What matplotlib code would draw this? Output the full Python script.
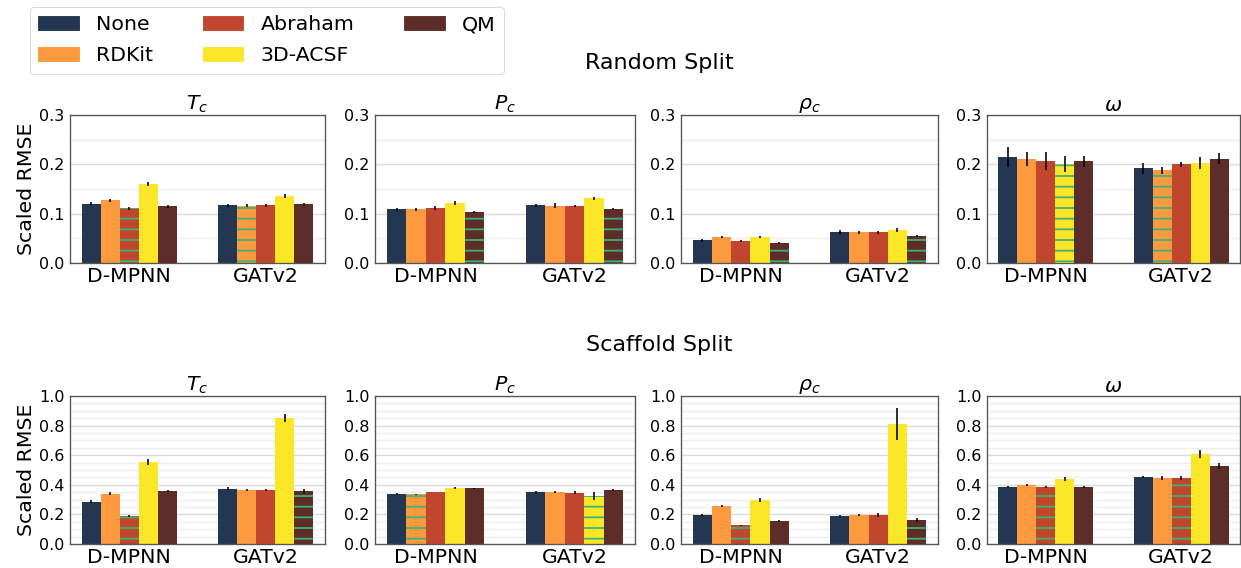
import matplotlib
matplotlib.use("Agg")
import matplotlib.pyplot as plt
from matplotlib.ticker import MultipleLocator
from matplotlib.patches import Patch

# feature sets (legend order) and their colours
features = ["None", "RDKit", "Abraham", "3D-ACSF", "QM"]
colors = ["#243752", "#fd9a40", "#c1462e", "#fbe727", "#5c2d29"]
models = ["D-MPNN", "GATv2"]
targets = [r"$T_c$", r"$P_c$", r"$\rho_c$", r"$\omega$"]

# random split: [target][model][feature]
random_mean = [
    [[0.120, 0.127, 0.111, 0.160, 0.115], [0.117, 0.1165, 0.117, 0.135, 0.119]],
    [[0.109, 0.109, 0.111, 0.121, 0.103], [0.117, 0.116, 0.115, 0.131, 0.109]],
    [[0.046, 0.052, 0.044, 0.052, 0.040], [0.062, 0.062, 0.062, 0.066, 0.054]],
    [[0.215, 0.211, 0.2065, 0.2005, 0.2065], [0.192, 0.188, 0.2005, 0.2025, 0.211]],
]
random_err = [
    [[0.003, 0.003, 0.003, 0.004, 0.003], [0.003, 0.003, 0.003, 0.004, 0.003]],
    [[0.003, 0.003, 0.004, 0.004, 0.002], [0.003, 0.005, 0.002, 0.003, 0.002]],
    [[0.003, 0.002, 0.002, 0.002, 0.002], [0.004, 0.003, 0.003, 0.004, 0.002]],
    [[0.021, 0.0145, 0.0175, 0.016, 0.011], [0.011, 0.007, 0.005, 0.0115, 0.011]],
]

# scaffold split
scaffold_mean = [
    [[0.284, 0.338, 0.189, 0.554, 0.358], [0.372, 0.365, 0.365, 0.851, 0.358]],
    [[0.338, 0.336, 0.351, 0.378, 0.378], [0.351, 0.351, 0.345, 0.324, 0.365]],
    [[0.196, 0.257, 0.128, 0.297, 0.155], [0.189, 0.196, 0.196, 0.811, 0.162]],
    [[0.385, 0.399, 0.383, 0.439, 0.385], [0.453, 0.446, 0.445, 0.608, 0.527]],
]
scaffold_err = [
    [[0.010, 0.010, 0.006, 0.020, 0.005], [0.010, 0.010, 0.010, 0.025, 0.012]],
    [[0.005, 0.005, 0.003, 0.004, 0.003], [0.010, 0.008, 0.010, 0.030, 0.006]],
    [[0.008, 0.004, 0.003, 0.012, 0.005], [0.010, 0.010, 0.012, 0.106, 0.012]],
    [[0.006, 0.006, 0.006, 0.012, 0.004], [0.008, 0.012, 0.014, 0.025, 0.022]],
]

W, H, DPI = 1241, 568, 64
plt.rcParams["hatch.linewidth"] = 2.0

fig = plt.figure(figsize=(W / DPI, H / DPI), dpi=DPI)

lefts = [70, 375, 681, 987]
rights = [325, 635, 938, 1240]
rows = [(115, 263), (396, 544)]
bw = 0.14


def draw_panel(ax, means, errs, ymax, major, title, first):
    for m in range(len(models)):
        # lowest error per model gets the green hatch
        best = min(range(len(features)), key=lambda f: means[m][f])
        for f in range(len(features)):
            x = m + (f - 2) * bw
            kw = dict(color=colors[f], width=bw, linewidth=0)
            if f == best:
                kw.update(hatch="-", edgecolor="#3cb371")
            ax.bar(x, means[m][f], **kw)
            ax.errorbar(x, means[m][f], yerr=errs[m][f], color="black",
                        elinewidth=1.8, capsize=0, fmt="none")
    ax.set_ylim(0, ymax)
    ax.yaxis.set_major_locator(MultipleLocator(major))
    ax.yaxis.set_minor_locator(MultipleLocator(0.05))
    ax.grid(True, which="major", axis="y", color="#dcdcdc", lw=1.6)
    ax.grid(True, which="minor", axis="y", color="#efefef", lw=1.6)
    ax.set_axisbelow(True)
    ax.set_xticks(range(len(models)))
    ax.set_xticklabels(models, fontsize=23)
    ax.tick_params(axis="y", labelsize=18, length=0, pad=6)
    ax.tick_params(axis="x", length=0, pad=4)
    ax.tick_params(which="minor", length=0)
    for s in ax.spines.values():
        s.set_color("#555555")
        s.set_linewidth(1.5)
    ax.set_title(title, fontsize=23, pad=2)
    if first:
        ax.set_ylabel("Scaled RMSE", fontsize=23)


for r, (top, bot) in enumerate(rows):
    means = random_mean if r == 0 else scaffold_mean
    errs = random_err if r == 0 else scaffold_err
    for c in range(4):
        ax = fig.add_axes([lefts[c] / W, 1 - bot / H,
                           (rights[c] - lefts[c]) / W, (bot - top) / H])
        if r == 0:
            draw_panel(ax, means[c], errs[c], 0.3, 0.1, targets[c], c == 0)
        else:
            draw_panel(ax, means[c], errs[c], 1.0, 0.2, targets[c], c == 0)

fig.text(659 / W, 1 - 63 / H, "Random Split", fontsize=25, ha="center", va="center")
fig.text(659 / W, 1 - 345 / H, "Scaffold Split", fontsize=25, ha="center", va="center")

handles = [Patch(color=col, label=lab) for col, lab in zip(colors, features)]
fig.legend(handles=handles, loc="upper left", bbox_to_anchor=(30 / W, 1 - 7 / H),
           ncol=3, fontsize=23, borderaxespad=0, columnspacing=2.4,
           labelspacing=0.6, handletextpad=0.85)

fig.savefig("out.png", dpi=DPI)
